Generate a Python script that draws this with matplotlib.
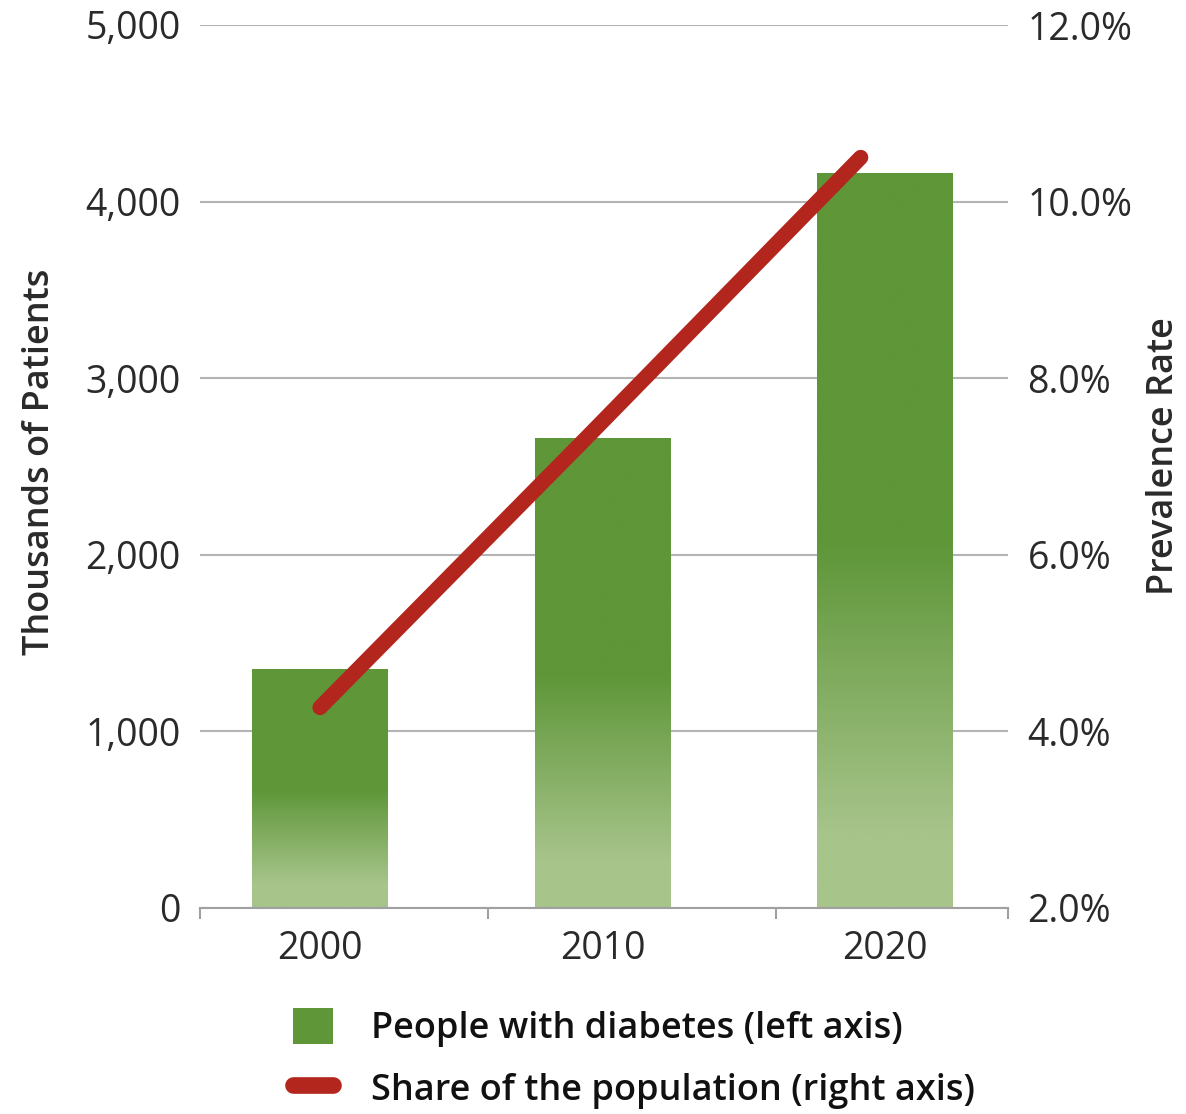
import numpy as np
import matplotlib
matplotlib.use('Agg')
import matplotlib.pyplot as plt
from matplotlib.patches import Patch
from matplotlib.lines import Line2D
from matplotlib.colors import LinearSegmentedColormap
from matplotlib.ticker import FuncFormatter, FixedLocator

# ---- data ----
years = ['2000', '2010', '2020']
patients = [1350, 2660, 4160]          # thousands of patients (left axis)
prevalence = [4.27, 7.37, 10.5]        # percent of population (right axis)
left_ticks = [0, 1000, 2000, 3000, 4000, 5000]
right_ticks = [2, 4, 6, 8, 10, 12]
bar_label = 'People with diabetes (left axis)'
line_label = 'Share of the population (right axis)'

plt.rcParams['font.family'] = ['Open Sans', 'DejaVu Sans']

DARK = '#5e9638'
LIGHT = '#a7c48b'
RED = '#b3261e'
GRID = '#b4b4b4'
TXT = '#2a2a2a'

W, H = 1186, 1114
fig = plt.figure(figsize=(W / 100, H / 100), dpi=100)
ax = fig.add_axes([200 / W, 1 - 908 / H, 808 / W, (908 - 25) / H])

x = np.arange(len(years))
xmin, xmax = -0.4248, 2.4354
bw = 0.48

cmap = LinearSegmentedColormap.from_list('g', [LIGHT, DARK])
frac = np.linspace(0, 1, 256)
grad = np.clip((frac - 0.1) / 0.4, 0, 1)[:, None]

bars = ax.bar(x, patients, width=bw, color='none', zorder=2)
for b in bars:
    x0, y0 = b.get_x(), b.get_y()
    ax.imshow(grad, extent=[x0, x0 + b.get_width(), y0, y0 + b.get_height()],
              origin='lower', aspect='auto', cmap=cmap, vmin=0, vmax=1,
              zorder=2, interpolation='bilinear')

ax.set_xlim(xmin, xmax)
ax.set_ylim(0, 5000)
ax.set_yticks(left_ticks)
ax.yaxis.set_major_formatter(FuncFormatter(lambda v, p: f'{int(v):,}'))
ax.grid(axis='y', color=GRID, lw=1.5, zorder=0)
ax.set_axisbelow(True)
for s in ['top', 'left', 'right']:
    ax.spines[s].set_visible(False)
ax.spines['bottom'].set_color('#a0a0a0')
ax.spines['bottom'].set_linewidth(1.5)
ax.spines['bottom'].set_zorder(3)

ax.set_xticks(x)
ax.set_xticklabels(years)
ax.xaxis.set_minor_locator(FixedLocator([xmin, 0.595, 1.614, xmax]))
ax.tick_params(axis='x', which='major', length=0, pad=16, labelsize=27, labelcolor=TXT)
ax.tick_params(axis='x', which='minor', length=8, width=1.5, color='#a0a0a0')
ax.tick_params(axis='y', length=0, pad=14, labelsize=27, labelcolor=TXT)

ax2 = ax.twinx()
ax2.set_ylim(2, 12)
ax2.set_yticks(right_ticks)
ax2.yaxis.set_major_formatter(FuncFormatter(lambda v, p: f'{v:.1f}%'))
ax2.tick_params(axis='y', length=0, pad=14, labelsize=27, labelcolor=TXT)
for s in ax2.spines.values():
    s.set_visible(False)
line_x = x * 0.957  # line ends slightly left of the last bar centre, as in the reference
ax2.plot(line_x, prevalence, color=RED, lw=11, solid_capstyle='round', zorder=4)
ax2.set_xlim(xmin, xmax)

fig.text(40 / W, 1 - 462 / H, 'Thousands of Patients', rotation=90,
         ha='center', va='center', fontsize=26, fontweight='semibold', color=TXT)
fig.text(1164 / W, 1 - 456 / H, 'Prevalence Rate', rotation=90,
         ha='center', va='center', fontsize=26, fontweight='semibold', color=TXT)

handles = [Patch(facecolor=DARK, edgecolor='none'),
           Line2D([], [], color=RED, lw=12, solid_capstyle='round')]
fig.legend(handles, [bar_label, line_label], loc='upper left',
           bbox_to_anchor=(293 / W, 1 - 1008 / H), frameon=False,
           borderpad=0, borderaxespad=0,
           prop={'size': 26, 'weight': 'semibold'}, labelcolor='#111111',
           handlelength=1.1, handleheight=1.15, handletextpad=1.05,
           labelspacing=0.62)

fig.savefig('out.png', dpi=100)
